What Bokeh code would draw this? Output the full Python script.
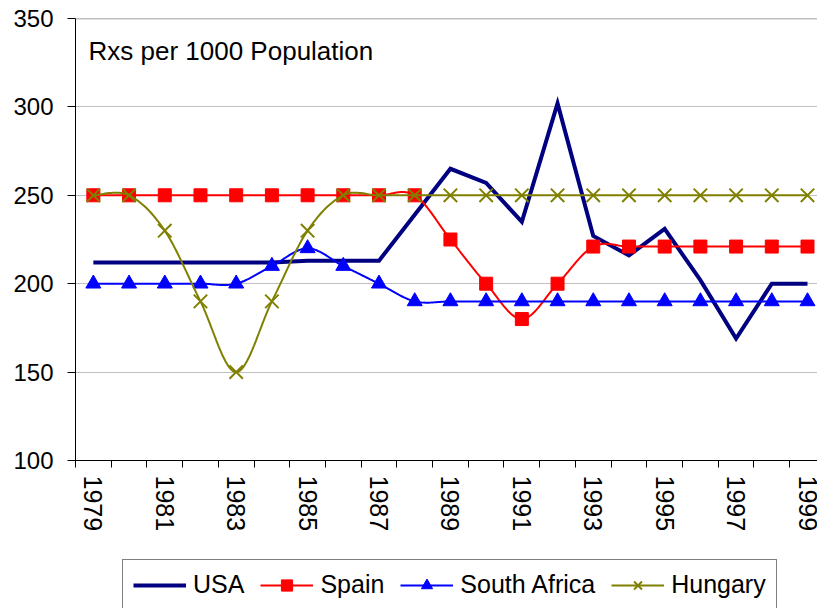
import numpy as np
from bokeh.plotting import figure
from bokeh.layouts import column
from bokeh.models import (Range1d, FixedTicker, Label, Legend, LegendItem, Span)
from bokeh.embed import file_html
from bokeh.resources import INLINE

# ---- data ----
years = list(range(1979, 2000))
usa = [212, 212, 212, 212, 212, 212, 213, 213, 213, 239, 265, 257, 235, 302, 227, 216, 231, 202, 169, 200, 200]
spain = [250, 250, 250, 250, 250, 250, 250, 250, 250, 250, 225, 200, 180, 200, 221, 221, 221, 221, 221, 221, 221]
south_africa = [200, 200, 200, 200, 200, 210, 220, 210, 200, 190, 190, 190, 190, 190, 190, 190, 190, 190, 190, 190, 190]
hungary = [250, 250, 230, 190, 150, 190, 230, 250, 250, 250, 250, 250, 250, 250, 250, 250, 250, 250, 250, 250, 250]
series_names = ["USA", "Spain", "South Africa", "Hungary"]
year_labels = [1979, 1981, 1983, 1985, 1987, 1989, 1991, 1993, 1995, 1997, 1999]
y_ticks = [100, 150, 200, 250, 300, 350]
title_text = "Rxs per 1000 Population"
FONT = "Liberation Sans"

C_USA, C_SP, C_SA, C_HU = "#000080", "#FF0000", "#0000FF", "#808000"


def smooth(xs, ys, n=20):
    """Excel-like smoothed line (Catmull-Rom style Bezier through the points)."""
    P = np.column_stack([np.asarray(xs, float), np.asarray(ys, float)])
    m = len(P)
    out = []
    for i in range(m - 1):
        a = P[i - 1] if i > 0 else P[i]
        b = P[i]
        c = P[i + 1]
        d = P[i + 2] if i + 2 < m else P[i + 1]
        c1 = b + (c - a) / 6.0
        c2 = c - (d - b) / 6.0
        for t in np.linspace(0, 1, n, endpoint=False):
            pt = ((1 - t) ** 3) * b + 3 * ((1 - t) ** 2) * t * c1 + 3 * (1 - t) * t * t * c2 + t ** 3 * c
            out.append(pt)
    out.append(P[-1])
    out = np.array(out)
    return out[:, 0], out[:, 1]


def draw_series(fig, smooth_lines=True):
    r = {}
    r["usa"] = [fig.line(years, usa, line_color=C_USA, line_width=4, line_join="miter")]
    sx, sy = smooth(years, spain) if smooth_lines else (years, spain)
    r["sp"] = [fig.line(sx, sy, line_color=C_SP, line_width=2),
               fig.scatter(years, spain, marker="square", size=13, fill_color=C_SP, line_color=C_SP)]
    ax, ay = smooth(years, south_africa) if smooth_lines else (years, south_africa)
    r["sa"] = [fig.line(ax, ay, line_color=C_SA, line_width=2),
               fig.scatter(years, south_africa, marker="triangle", size=15, fill_color=C_SA, line_color=C_SA)]
    hx, hy = smooth(years, hungary) if smooth_lines else (years, hungary)
    r["hu"] = [fig.line(hx, hy, line_color=C_HU, line_width=2),
               fig.scatter(years, hungary, marker="x", size=19, line_color=C_HU, line_width=2)]
    return r


p = figure(width=817, height=548, output_backend="svg", toolbar_location=None,
           x_range=Range1d(1978.5, 1999.28), y_range=Range1d(100, 350),
           min_border_left=75, min_border_right=0, min_border_top=18, min_border_bottom=88,
           background_fill_color="white", border_fill_color="white")
p.outline_line_color = None

# axes
p.xaxis.ticker = FixedTicker(ticks=year_labels,
                             minor_ticks=[y - 0.5 for y in years] + [years[-1] + 0.5])
p.xaxis.major_label_overrides = {y: str(y) for y in year_labels}
p.xaxis.major_label_orientation = "vertical"
p.xaxis.major_tick_out = 0
p.xaxis.major_tick_in = 0
p.xaxis.minor_tick_out = 7
p.xaxis.minor_tick_in = 0
p.xaxis.minor_tick_line_color = "black"
p.xaxis.major_label_standoff = 8
p.xaxis.axis_line_color = "black"
p.xaxis.major_label_text_font = FONT
p.xaxis.major_label_text_font_size = "25px"
p.xaxis.major_label_text_color = "black"

p.yaxis.ticker = FixedTicker(ticks=y_ticks)
p.yaxis.major_label_overrides = {v: str(v) for v in y_ticks}
p.yaxis.major_tick_out = 8
p.yaxis.major_tick_in = 0
p.yaxis.minor_tick_line_color = None
p.yaxis.major_label_standoff = 14
p.yaxis.axis_line_color = "black"
p.yaxis.major_label_text_font = FONT
p.yaxis.major_label_text_font_size = "24px"
p.yaxis.major_label_text_color = "black"

p.xgrid.visible = False
p.ygrid.ticker = FixedTicker(ticks=y_ticks)
p.ygrid.grid_line_color = "#c0c0c0"
p.ygrid.grid_line_width = 1

p.add_layout(Span(location=350, dimension="width", line_color="#808080", line_width=1.5))

draw_series(p, smooth_lines=True)

# title inside plot
p.add_layout(Label(x=1978.5, y=350, x_offset=13, y_offset=-32, text=title_text,
                   text_font=FONT, text_font_size="26px", text_color="black",
                   text_baseline="alphabetic", text_align="left"))

# ---- legend strip below (same series, drawn outside its visible range) ----
p2 = figure(width=817, height=60, output_backend="svg", toolbar_location=None,
            x_range=Range1d(0, 1), y_range=Range1d(0, 1),
            x_axis_location=None, y_axis_location=None,
            min_border_left=0, min_border_right=0, min_border_top=0, min_border_bottom=0,
            background_fill_color="white", border_fill_color="white")
p2.outline_line_color = None
p2.grid.visible = False
rr = draw_series(p2, smooth_lines=False)

legend = Legend(items=[
    LegendItem(label=series_names[0], renderers=rr["usa"]),
    LegendItem(label=series_names[1], renderers=rr["sp"]),
    LegendItem(label=series_names[2], renderers=rr["sa"]),
    LegendItem(label=series_names[3], renderers=rr["hu"]),
], location=(47, -2), orientation="horizontal",
    label_text_font=FONT, label_text_font_size="25px", label_text_color="black",
    glyph_width=53, glyph_height=28, label_height=28, label_standoff=7, spacing=16,
    padding=10, margin=0, border_line_color="black", border_line_width=1,
    background_fill_color="white", background_fill_alpha=1)
p2.add_layout(legend, "center")

open("out.html", "w").write(file_html(column(p, p2, spacing=0), INLINE))
